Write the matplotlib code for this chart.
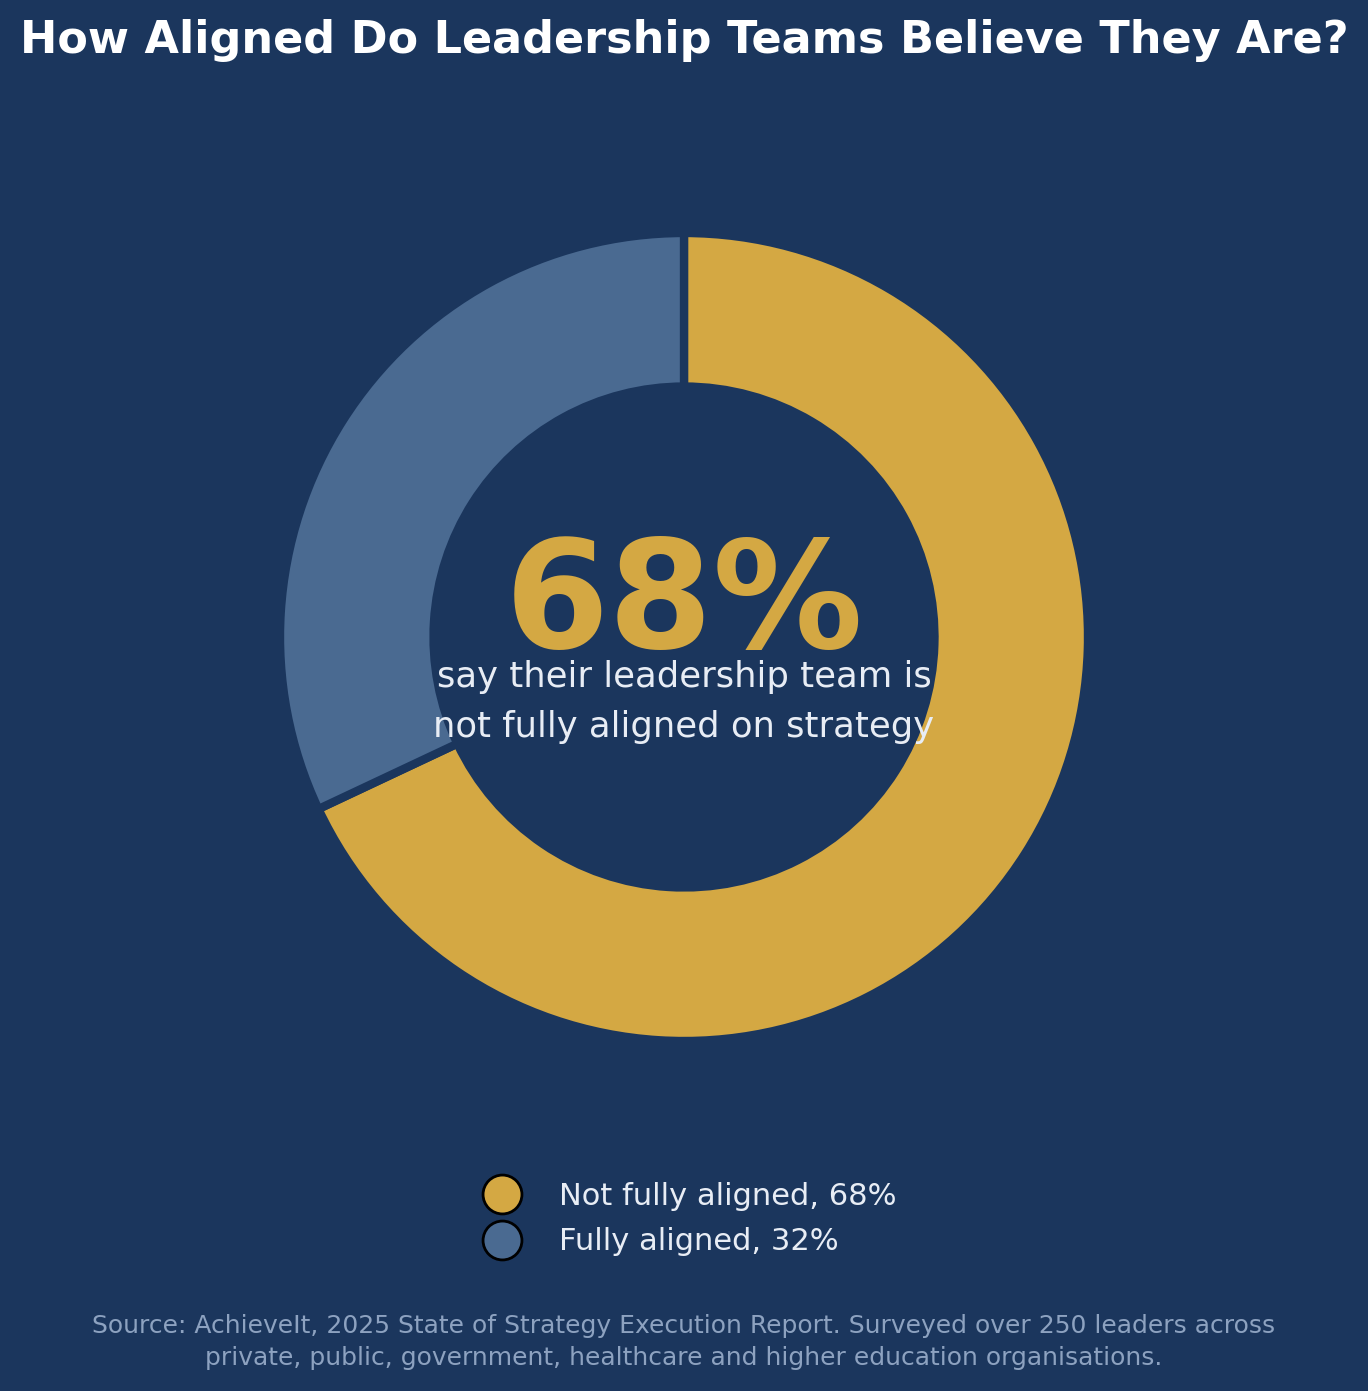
import matplotlib
matplotlib.use("Agg")
import matplotlib.pyplot as plt
from matplotlib.lines import Line2D

categories = ["Not fully aligned", "Fully aligned"]
values = [68, 32]
colors = ["#D4A843", "#4A6A91"]
title = "How Aligned Do Leadership Teams Believe They Are?"
headline = "68%"
subtext = "say their leadership team is\nnot fully aligned on strategy"
source = ("Source: AchieveIt, 2025 State of Strategy Execution Report. Surveyed over 250 leaders across\n"
          "private, public, government, healthcare and higher education organisations.")

BG = "#1B365D"
W, H = 1368, 1391
fig = plt.figure(figsize=(W / 100, H / 100), dpi=100, facecolor=BG)

R = 404
cx, cy = 684, 1391 - 637
ax = fig.add_axes([(cx - R) / W, (cy - R) / H, 2 * R / W, 2 * R / H])
ax.set_facecolor(BG)
wedges, _ = ax.pie(values, colors=colors, startangle=90, counterclock=False,
                   radius=1, wedgeprops=dict(width=0.38, edgecolor=BG, linewidth=6))
for w in wedges:
    w.set_clip_on(False)
ax.set_xlim(-1, 1)
ax.set_ylim(-1, 1)
ax.axis("off")

ax.text(0, -0.027, headline, ha="center", va="baseline", fontsize=108,
        fontweight="bold", color=colors[0])
ax.text(0, -0.16, subtext, ha="center", va="center", fontsize=25.5,
        color="#E8EDF5", linespacing=1.6)

fig.text(0.5, 1 - 40 / H, title, ha="center", va="center", fontsize=32,
         fontweight="bold", color="white")

handles = [Line2D([0], [0], marker="o", linestyle="none", markersize=28,
                  markerfacecolor=c, markeredgecolor="black", markeredgewidth=2)
           for c in colors]
labels = [f"{c}, {v}%" for c, v in zip(categories, values)]
leg = fig.legend(handles, labels, loc="center", bbox_to_anchor=(684 / W, 1 - 1219 / H),
                 frameon=False, fontsize=22, labelcolor="#E8EDF5",
                 handletextpad=0.85, labelspacing=0.55)

fig.text(0.5, 1 - 1342 / H, source, ha="center", va="center", fontsize=18,
         color="#8DA2C0", linespacing=1.45)

fig.savefig("out.png", dpi=100, facecolor=BG)
